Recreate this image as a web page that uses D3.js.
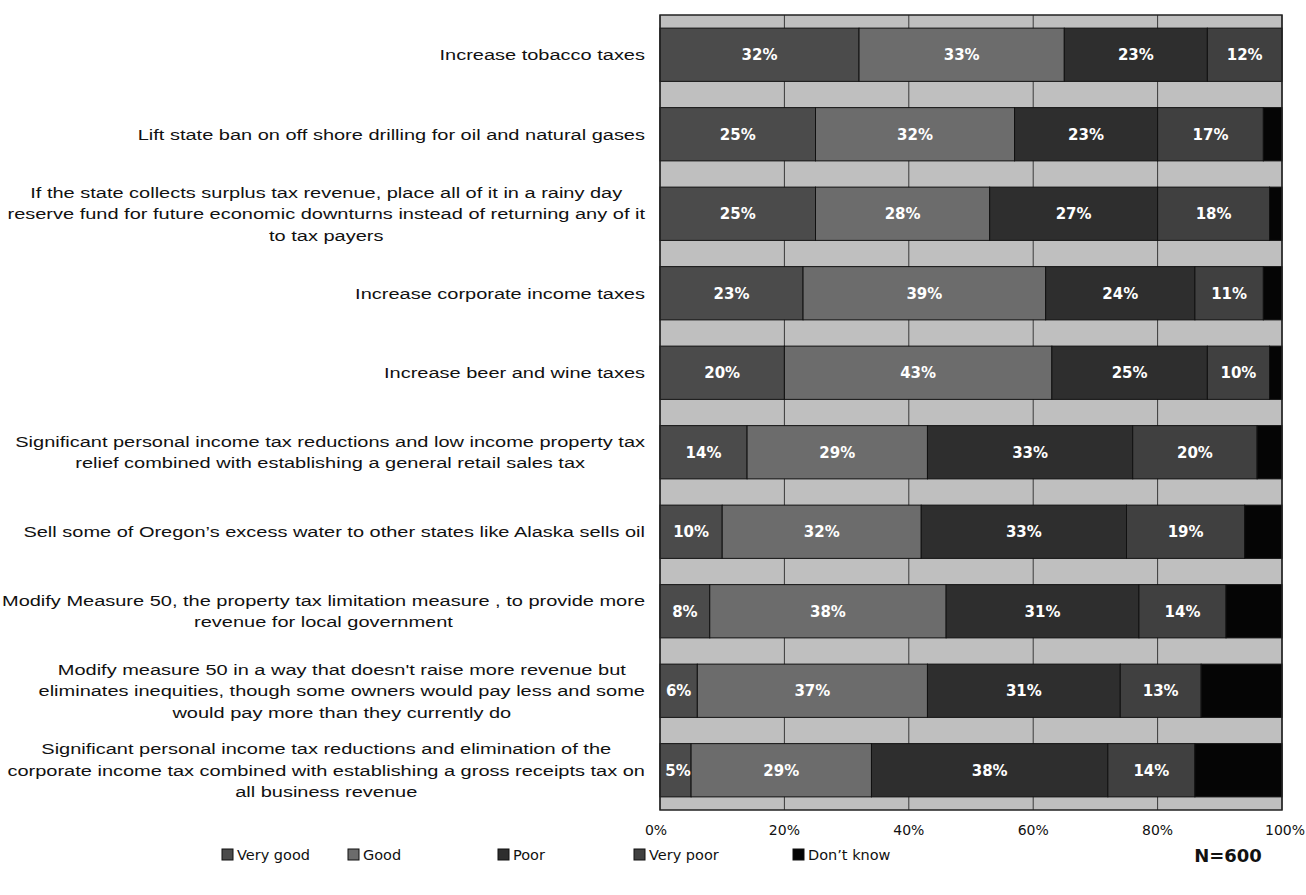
<!DOCTYPE html>
<html>
<head>
<meta charset="utf-8">
<script src="https://cdn.jsdelivr.net/npm/d3@7"></script>
<style>
  body { margin: 0; background: #fff; }
  svg { display: block; }
</style>
</head>
<body>
<div id="chart"></div>
<script>
// ---- data ----
const categories = [
  ["Increase tobacco taxes"],
  ["Lift state ban on off shore drilling for oil and natural gases"],
  ["If the state collects surplus tax revenue, place all of it in a rainy day",
   "reserve fund for future economic downturns instead of returning any of it",
   "to tax payers"],
  ["Increase corporate income taxes"],
  ["Increase beer and wine taxes"],
  ["Significant personal income tax reductions and low income property tax",
   "relief combined with establishing a general retail sales tax"],
  ["Sell some of Oregon\u2019s excess water to other states like Alaska sells oil"],
  ["Modify Measure 50, the property tax limitation measure , to provide more",
   "revenue for local government"],
  ["Modify measure 50 in a way that doesn't raise more revenue but",
   "eliminates inequities, though some owners would pay less and some",
   "would pay more than they currently do"],
  ["Significant personal income tax reductions and elimination of the",
   "corporate income tax combined with establishing a gross receipts tax on",
   "all business revenue"]
];
const seriesNames = ["Very good", "Good", "Poor", "Very poor", "Don\u2019t know"];
const veryGood = [32, 25, 25, 23, 20, 14, 10, 8, 6, 5];
const good     = [33, 32, 28, 39, 43, 29, 32, 38, 37, 29];
const poor     = [23, 23, 27, 24, 25, 33, 33, 31, 31, 38];
const veryPoor = [12, 17, 18, 11, 10, 20, 19, 14, 13, 14];
const dontKnow = [0, 3, 2, 3, 2, 4, 6, 9, 13, 14];
const xTicks = [0, 20, 40, 60, 80, 100];
const sampleNote = "N=600";

const seriesValues = [veryGood, good, poor, veryPoor, dontKnow];
const colors = ["#4b4b4b", "#6c6c6c", "#2e2e2e", "#404040", "#050505"];

const width = 1306, height = 895;
const plot = { left: 660, right: 1282, top: 15, bottom: 810 };

const svg = d3.select("#chart").append("svg")
  .attr("width", width).attr("height", height);

const x = d3.scaleLinear().domain([0, 100]).range([plot.left, plot.right]);
const y = d3.scaleBand().domain(d3.range(categories.length))
  .range([plot.top, plot.bottom]).paddingInner(0.33).paddingOuter(0.165);

// plot background
svg.append("rect")
  .attr("x", plot.left).attr("y", plot.top)
  .attr("width", plot.right - plot.left).attr("height", plot.bottom - plot.top)
  .attr("fill", "#bfbfbf");

// gridlines
svg.append("g").selectAll("line").data(xTicks).join("line")
  .attr("x1", d => x(d)).attr("x2", d => x(d))
  .attr("y1", plot.top).attr("y2", plot.bottom)
  .attr("stroke", "#3a3a3a").attr("stroke-width", 1);

// stacked rows
const rows = categories.map((c, i) => {
  let acc = 0;
  return seriesValues.map((vals, s) => {
    const seg = { row: i, s: s, x0: acc, x1: acc + vals[i], v: vals[i] };
    acc += vals[i];
    return seg;
  });
}).flat();

svg.append("g").selectAll("rect").data(rows.filter(d => d.v > 0)).join("rect")
  .attr("x", d => x(d.x0))
  .attr("y", d => y(d.row))
  .attr("width", d => x(d.x1) - x(d.x0))
  .attr("height", y.bandwidth())
  .attr("fill", d => colors[d.s])
  .attr("stroke", "#111").attr("stroke-width", 1);

// value labels (not for don't know)
svg.append("g").selectAll("text").data(rows.filter(d => d.s < 4 && d.v > 0)).join("text")
  .attr("x", d => Math.max(x((d.x0 + d.x1) / 2), plot.left + 18))
  .attr("y", d => y(d.row) + y.bandwidth() / 2)
  .attr("dy", "0.35em")
  .attr("text-anchor", "middle")
  .attr("font-family", "DejaVu Sans, Verdana, sans-serif")
  .attr("font-size", 15)
  .attr("font-weight", "bold")
  .attr("fill", "#fff")
  .text(d => d.v + "%");

// plot border
svg.append("rect")
  .attr("x", plot.left).attr("y", plot.top)
  .attr("width", plot.right - plot.left).attr("height", plot.bottom - plot.top)
  .attr("fill", "none").attr("stroke", "#222").attr("stroke-width", 1.5);

// x tick labels
svg.append("g").selectAll("text").data(xTicks).join("text")
  .attr("x", d => x(d) + (d === 0 ? -4 : d === 100 ? 3 : 0))
  .attr("y", 835)
  .attr("text-anchor", "middle")
  .attr("font-family", "DejaVu Sans, Verdana, sans-serif")
  .attr("font-size", 14)
  .attr("fill", "#111")
  .text(d => d + "%");

// category labels: block right-aligned, lines centred inside block,
// stretched so the widest line spans the same room as the original
const lineH = 21.5;
const labelRight = 645;
const widestLine = 643;
const catG = svg.append("g")
  .attr("font-family", "Liberation Sans, Arial, sans-serif")
  .attr("font-size", 15.5)
  .attr("fill", "#111");

const labelTexts = [];
categories.forEach((lines, i) => {
  const cy = y(i) + y.bandwidth() / 2;
  const texts = lines.map((ln, k) => catG.append("text")
    .attr("y", cy + (k - (lines.length - 1) / 2) * lineH)
    .attr("dy", "0.35em")
    .attr("text-anchor", "middle")
    .text(ln));
  labelTexts.push(texts);
});
const allW = labelTexts.flat().map(t => t.node().getComputedTextLength());
const stretch = widestLine / d3.max(allW);
labelTexts.forEach(texts => {
  const ws = texts.map(t => t.node().getComputedTextLength() * stretch);
  const maxW = d3.max(ws);
  texts.forEach((t, k) => t
    .attr("x", labelRight - maxW / 2)
    .attr("textLength", ws[k])
    .attr("lengthAdjust", "spacingAndGlyphs"));
});

// legend
const legendX = [222, 348, 498, 634, 793];
const legend = svg.append("g");
seriesNames.forEach((name, s) => {
  legend.append("rect")
    .attr("x", legendX[s]).attr("y", 849)
    .attr("width", 11).attr("height", 11)
    .attr("fill", colors[s]).attr("stroke", "#111");
  legend.append("text")
    .attr("x", legendX[s] + 15).attr("y", 855)
    .attr("dy", "0.35em")
    .attr("font-family", "DejaVu Sans, Verdana, sans-serif")
    .attr("font-size", 14.5)
    .attr("fill", "#111")
    .text(name);
});

svg.append("text")
  .attr("x", 1228).attr("y", 856)
  .attr("dy", "0.35em")
  .attr("text-anchor", "middle")
  .attr("font-family", "DejaVu Sans, Verdana, sans-serif")
  .attr("font-size", 18)
  .attr("font-weight", "bold")
  .attr("fill", "#111")
  .text(sampleNote);
</script>
</body>
</html>
